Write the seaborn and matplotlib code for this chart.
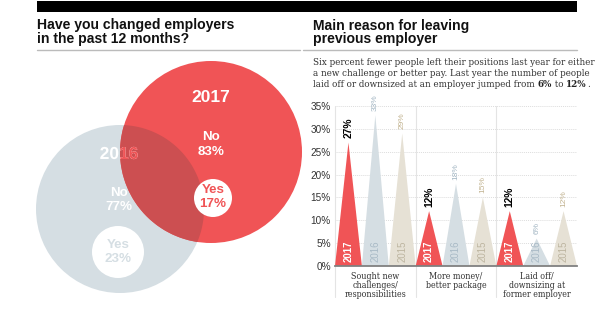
import matplotlib
matplotlib.use('Agg')
import matplotlib.pyplot as plt
import matplotlib.colors as mcolors
from matplotlib.patches import Circle, Rectangle, Polygon, PathPatch
from matplotlib.textpath import TextPath
from matplotlib.font_manager import FontProperties
from matplotlib.transforms import Affine2D
import seaborn as sns
import pandas as pd
import numpy as np

# ---------------- data ----------------
venn_years = ['2016', '2017']
venn_no = [77, 83]
venn_yes = [23, 17]

reasons = ['Sought new\nchallenges/\nresponsibilities',
           'More money/\nbetter package',
           'Laid off/\ndownsizing at\nformer employer']
years = ['2017', '2016', '2015']
values_2017 = [27, 12, 12]
values_2016 = [33, 18, 6]
values_2015 = [29, 15, 12]
yticks = [0, 5, 10, 15, 20, 25, 30, 35]
ytick_labels = ['0%', '5%', '10%', '15%', '20%', '25%', '30%', '35%']

left_title = ['Have you changed employers', 'in the past 12 months?']
right_title = ['Main reason for leaving', 'previous employer']
subtitle_lines = ['Six percent fewer people left their positions last year for either',
                  'a new challenge or better pay. Last year the number of people']
subtitle_last = [('laid off or downsized at an employer jumped from ', 'normal'),
                 ('6%', 'bold'), (' to ', 'normal'), ('12%', 'bold'), ('.', 'normal')]

# ---------------- style ----------------
RED = '#F05456'
GRAY = '#D5DEE3'
BEIGE = '#E6E1D5'
OVER = '#CC4F51'
palette = {'2017': RED, '2016': GRAY, '2015': BEIGE}
val_style = {'2017': dict(color='black', fontsize=7.4, fontweight='bold'),
             '2016': dict(color='#A3B6C3', fontsize=6.0, fontweight='normal'),
             '2015': dict(color='#C2B390', fontsize=6.0, fontweight='normal')}
base_style = {'2017': dict(color='white', fontweight='bold'),
              '2016': dict(color='#A9BAC6', fontweight='normal'),
              '2015': dict(color='#BDB5A0', fontweight='normal')}

sns.set_theme(style='white')
plt.rcParams['font.family'] = ['Liberation Sans', 'DejaVu Sans']
SERIF = ['DejaVu Serif']
SUB_FS = 7.0

fig = plt.figure(figsize=(6.14, 3.24), dpi=100)
fig.patch.set_facecolor('white')

# background axes in pixel coordinates
bg = fig.add_axes([0, 0, 1, 1])
bg.set_xlim(0, 614)
bg.set_ylim(324, 0)
bg.axis('off')

bg.add_patch(Rectangle((37, 1), 540, 11, color='black', lw=0))
bg.plot([37, 300], [50, 50], color='#BBBBBB', lw=1)
bg.plot([303, 577], [50, 50], color='#BBBBBB', lw=1)

for txt, yb in zip(left_title, [29.5, 43]):
    bg.text(37, yb, txt, fontsize=10.1, fontweight='bold', color='#111111', va='baseline', ha='left')
for txt, yb in zip(right_title, [30, 42.5]):
    bg.text(313, yb, txt, fontsize=10.1, fontweight='bold', color='#111111', va='baseline', ha='left')

for txt, yb in zip(subtitle_lines, [65, 76]):
    bg.text(313, yb, txt, fontsize=SUB_FS, family=SERIF, fontstretch='condensed', color='#333333', va='baseline')

renderer = fig.canvas.get_renderer()


def advance(s, wt):
    p1 = bg.text(0, 0, '|' + s + '|', fontsize=SUB_FS, family=SERIF, fontstretch='condensed', fontweight=wt)
    p2 = bg.text(0, 0, '||', fontsize=SUB_FS, family=SERIF, fontstretch='condensed', fontweight=wt)
    w = p1.get_window_extent(renderer).width - p2.get_window_extent(renderer).width
    p1.remove(); p2.remove()
    return w


x = 313
for piece, wt in subtitle_last:
    bg.text(x, 87, piece, fontsize=SUB_FS, family=SERIF, fontstretch='condensed', fontweight=wt,
            color='#222222' if wt == 'bold' else '#333333', va='baseline')
    x += advance(piece, wt)

# ---------------- venn ----------------
C16, R16 = np.array([120.0, 209.0]), 84.0
C17, R17 = np.array([211.0, 152.0]), 91.0
c16 = Circle(C16, R16, facecolor=GRAY, edgecolor='none', zorder=1)
c17 = Circle(C17, R17, facecolor=RED, edgecolor='none', zorder=2)
bg.add_patch(c16)
bg.add_patch(c17)

# intersection lens (convex): boundary points of each circle lying inside the other
th = np.linspace(0, 2 * np.pi, 1440, endpoint=False)
p16 = C16 + R16 * np.c_[np.cos(th), np.sin(th)]
p17 = C17 + R17 * np.c_[np.cos(th), np.sin(th)]
pts = np.vstack([p16[np.linalg.norm(p16 - C17, axis=1) <= R17],
                 p17[np.linalg.norm(p17 - C16, axis=1) <= R16]])
cen = pts.mean(axis=0)
pts = pts[np.argsort(np.arctan2(pts[:, 1] - cen[1], pts[:, 0] - cen[0]))]
lens = Polygon(pts, closed=True, facecolor=OVER, edgecolor='none', zorder=3)
bg.add_patch(lens)

bg.add_patch(Circle((213, 198), 19, facecolor='white', edgecolor='none', zorder=4))
bg.add_patch(Circle((118, 252), 26, facecolor='white', edgecolor='none', zorder=4))

kw = dict(fontweight='bold', ha='center', va='center', zorder=5)
bg.text(211, 98, venn_years[1], fontsize=12.5, color='white', **kw)
bg.text(211, 137, 'No', fontsize=9.6, color='white', **kw)
bg.text(211, 152, f'{venn_no[1]}%', fontsize=9.6, color='white', **kw)
bg.text(213, 190, 'Yes', fontsize=9.6, color=RED, **kw)
bg.text(213, 204, f'{venn_yes[1]}%', fontsize=9.6, color=RED, **kw)

# "2016" as vector path so it can be clipped: white on grey, red inside the 2017 circle
fp = FontProperties(family='Liberation Sans', weight='bold')
tp = TextPath((0, 0), venn_years[0], size=12.5 * 100 / 72, prop=fp)
ext = tp.get_extents()
tr = Affine2D().translate(-(ext.x0 + ext.x1) / 2, -(ext.y0 + ext.y1) / 2).scale(1, -1).translate(119, 153)
pw = PathPatch(tr.transform_path(tp), facecolor='white', edgecolor='none', zorder=5)
pr = PathPatch(tr.transform_path(tp), facecolor=RED, edgecolor='none', zorder=6)
bg.add_patch(pw)
bg.add_patch(pr)
pr.set_clip_path(c17)

bg.text(119, 193, 'No', fontsize=9.6, color='white', **kw)
bg.text(119, 207, f'{venn_no[0]}%', fontsize=9.6, color='white', **kw)
bg.text(118, 245, 'Yes', fontsize=9.6, color=GRAY, **kw)
bg.text(118, 259, f'{venn_yes[0]}%', fontsize=9.6, color=GRAY, **kw)

# ---------------- bar (triangle) chart ----------------
df = pd.DataFrame({
    'reason': reasons * 3,
    'year': [y for y in years for _ in reasons],
    'value': values_2017 + values_2016 + values_2015,
})

ax = fig.add_axes([335 / 614, 58 / 324, 242 / 614, 160 / 324])
ax.patch.set_alpha(0)
sns.barplot(data=df, x='reason', y='value', hue='year', order=reasons, hue_order=years,
            palette=palette, width=1.0, saturation=1, errorbar=None, legend=False, ax=ax)

ax.set_xlim(-0.5, 2.5)
ax.set_ylim(0, 35)

rgba_to_year = {mcolors.to_hex(palette[y]): y for y in years}
for bar in list(ax.patches):
    yr = rgba_to_year.get(mcolors.to_hex(bar.get_facecolor()))
    if yr is None:
        continue
    bx, bw, bh = bar.get_x(), bar.get_width(), bar.get_height()
    bar.set_visible(False)
    ax.add_patch(Polygon([(bx, 0), (bx + bw / 2, bh), (bx + bw, 0)], closed=True,
                         facecolor=palette[yr], edgecolor='none', zorder=3))
    ax.annotate(f'{bh:.0f}%', xy=(bx + bw / 2, bh), xytext=(0, 3), textcoords='offset points',
                rotation=90, ha='center', va='bottom', annotation_clip=False, zorder=4,
                **val_style[yr])
    ax.annotate(yr, xy=(bx + bw / 2, 0), xytext=(0, 3), textcoords='offset points',
                rotation=90, ha='center', va='bottom', fontsize=6.9, zorder=4,
                **base_style[yr])

for s in ['top', 'right', 'left']:
    ax.spines[s].set_visible(False)
ax.spines['bottom'].set_color('#808080')
ax.spines['bottom'].set_linewidth(1.3)
ax.spines['bottom'].set_zorder(5)

ax.set_yticks(yticks)
ax.set_yticklabels(ytick_labels)
for yv in yticks[1:]:
    ax.axhline(yv, color='#DDDDDD', lw=0.7, ls=(0, (1, 1)), zorder=0)
for xv in [-0.5, 0.5, 1.5]:
    ax.axvline(xv, ymin=-0.195, ymax=1, color='#E4E4E4', lw=0.8, clip_on=False, zorder=0)

ax.tick_params(axis='y', length=0, pad=3, labelsize=7.2, labelcolor='#333333')
ax.tick_params(axis='x', length=0, pad=4, labelsize=6.4, labelcolor='#333333')
for t in ax.get_xticklabels():
    t.set_family(SERIF)
    t.set_fontstretch('condensed')
    t.set_linespacing(1.05)
ax.set_xlabel('')
ax.set_ylabel('')

fig.savefig('out.png', dpi=100, facecolor='white')
